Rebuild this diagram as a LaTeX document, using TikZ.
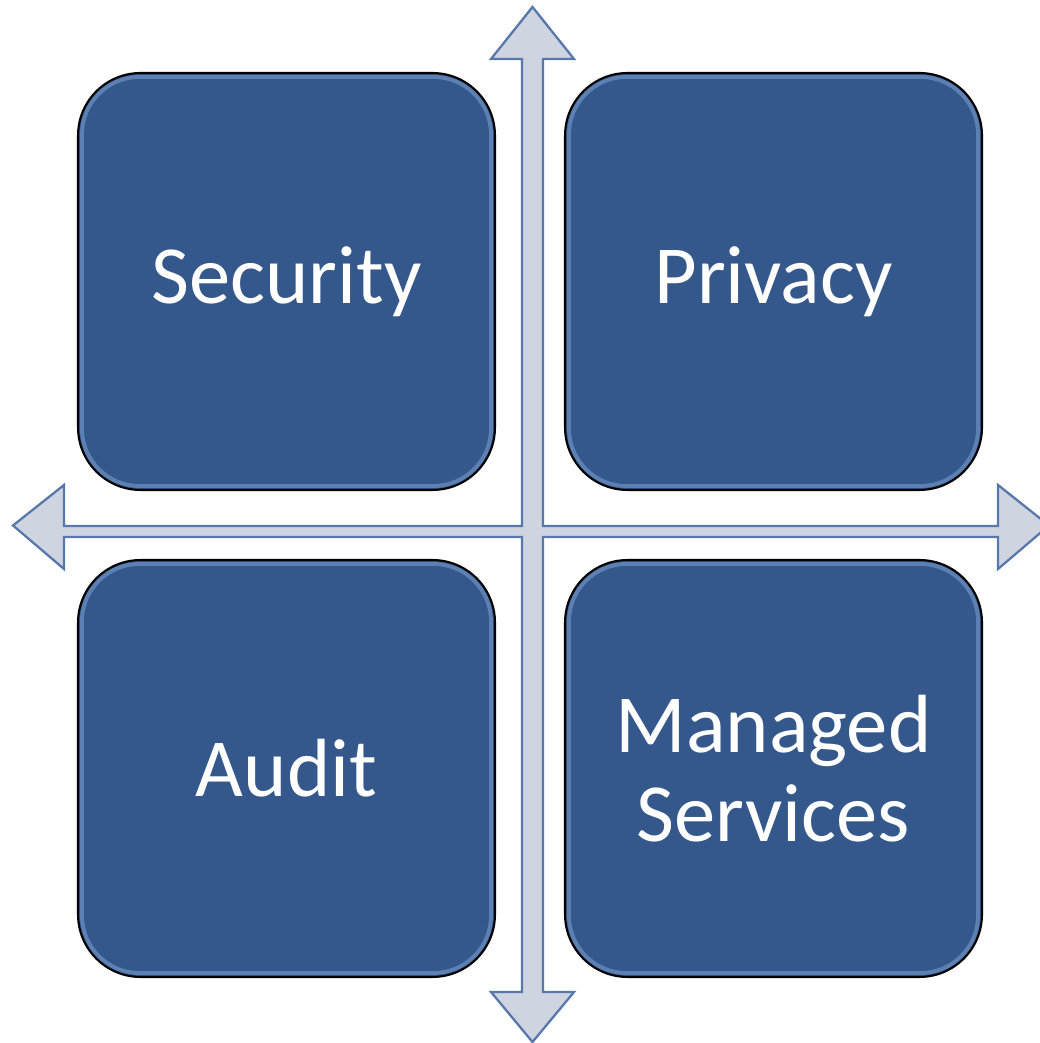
\documentclass[tikz,border=0pt]{standalone}
\usepackage{fontspec}
\setmainfont{Carlito}
\definecolor{bleucase}{RGB}{53,88,140}
\definecolor{rebord}{RGB}{120,155,205}
\definecolor{fondfleche}{RGB}{206,212,224}
\definecolor{traitfleche}{RGB}{88,120,172}
\tikzset{
  case/.style={draw=black, line width=1.2pt, fill=bleucase, rounded corners=1.25cm,
    minimum width=8.34cm, minimum height=8.34cm, text=white, align=center,
    font=\fontsize{47}{51}\selectfont},
  reflet/.style={draw=rebord, line width=2.2pt, opacity=0.6, rounded corners=1.15cm},
  fleche/.style={fill=fondfleche, draw=traitfleche, line width=1.3pt, line join=miter}
}
\begin{document}
\begin{tikzpicture}[x=0.02cm,y=0.02cm]

% Cadre
\useasboundingbox (0,0) rectangle (1039,1043);

% Croix à quatre flèches
\draw[fleche] (522,517) -- (522,984) -- (491,984) -- (532.5,1036) -- (574,984) -- (543,984)
  -- (543,517) -- (998,517) -- (998,558) -- (1049,517.5) -- (998,474) -- (998,506)
  -- (543,506) -- (543,51) -- (574,51) -- (532.5,1) -- (491,51) -- (522,51)
  -- (522,506) -- (64,506) -- (64,474) -- (13,517.5) -- (64,558) -- (64,517) -- cycle;

% Les quatre cases
\node[case] (securite) at (286.5,761.5) {Security};
\node[case] (vie) at (773.5,761.5) {Privacy};
\node[case] (audit) at (286.5,274.5) {Audit};
\node[case] (services) at (773.5,274.5) {Managed\\Services};

% Reflets
\foreach \c in {securite,vie,audit,services}
  \draw[reflet] ([shift={(5,5)}]\c.south west) rectangle ([shift={(-5,-5)}]\c.north east);

\end{tikzpicture}
\end{document}
